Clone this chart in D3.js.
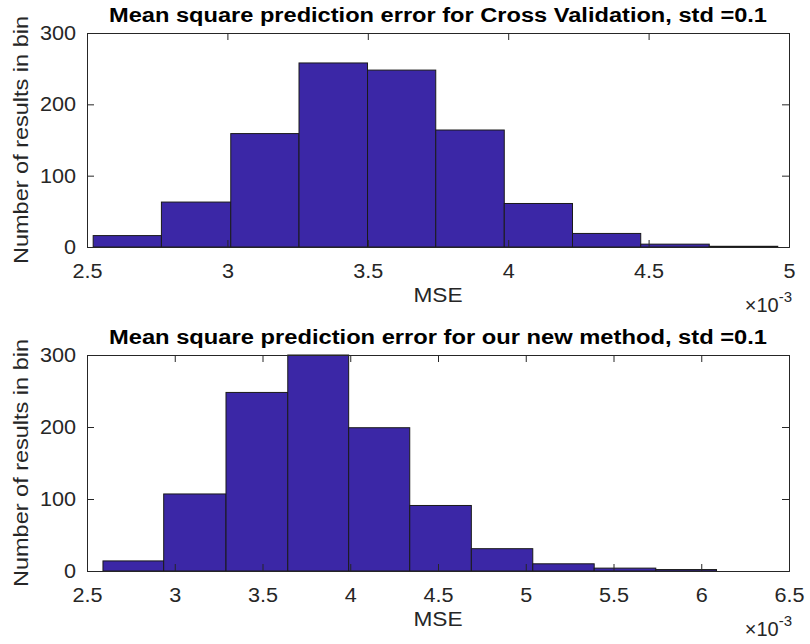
<!DOCTYPE html>
<head>
  <title>MSE histograms</title>
  <meta charset="utf-8">
  <style>
    body { margin: 0; background: #fff; }
    text { font-family: "Liberation Sans", Arial, Helvetica, sans-serif; fill: #262626; }
    .title { font-weight: bold; fill: #000; }
  </style>
</head>
<body>
  <svg width="810" height="644"></svg>
  <script src="https://d3js.org/d3.v7.min.js"></script>
  <script>
    // Top panel: cross validation
    var cvTitle = "Mean square prediction error for Cross Validation, std =0.1";
    var cvEdges = [2.522, 2.765, 3.012, 3.255, 3.499, 3.742, 3.986, 4.229, 4.472, 4.716, 4.960];
    var cvCounts = [16, 63, 159, 258, 248, 164, 61, 19, 4, 1];
    var cvXTicks = [2.5, 3, 3.5, 4, 4.5, 5];

    // Bottom panel: new method
    var nmTitle = "Mean square prediction error for our new method, std =0.1";
    var nmEdges = [2.591, 2.937, 3.292, 3.644, 3.991, 4.339, 4.690, 5.040, 5.390, 5.741, 6.087];
    var nmCounts = [14, 107, 248, 300, 199, 91, 31, 10, 4, 2];
    var nmXTicks = [2.5, 3, 3.5, 4, 4.5, 5, 5.5, 6, 6.5];

    var yTicks = [0, 100, 200, 300];
    var xLabel = "MSE", yLabel = "Number of results in bin";

    var svg = d3.select("svg");
    var barColor = "#3b27a6";

    // MATLAB's text renders a bit wider than Liberation Sans
    function widen(sel, f) {
      sel.each(function() {
        var w = this.getComputedTextLength();
        d3.select(this).attr("textLength", w * f).attr("lengthAdjust", "spacingAndGlyphs");
      });
    }

    function drawPanel(p) {
      var x = d3.scaleLinear().domain(d3.extent(p.xTicks)).range([p.left, p.right]);
      var y = d3.scaleLinear().domain([0, 300]).range([p.bottom, p.top]);
      var g = svg.append("g");

      var bins = p.counts.map(function(c, i) { return {x0: p.edges[i], x1: p.edges[i + 1], n: c}; });

      g.selectAll("rect.bar")
        .data(bins)
        .enter().append("rect")
          .attr("class", "bar")
          .attr("x", function(d) { return x(d.x0); })
          .attr("width", function(d) { return x(d.x1) - x(d.x0); })
          .attr("y", function(d) { return y(d.n); })
          .attr("height", function(d) { return y(0) - y(d.n); })
          .attr("fill", barColor)
          .attr("stroke", "#1a1a1a")
          .attr("stroke-width", 1);

      // axes (MATLAB style: ticks inside, box on)
      var tl = -7;
      g.append("g").attr("transform", "translate(0," + p.bottom + ")")
        .call(d3.axisBottom(x).tickValues(p.xTicks).tickSize(tl).tickPadding(17).tickFormat(d3.format("")));
      g.append("g").attr("transform", "translate(0," + p.top + ")")
        .call(d3.axisTop(x).tickValues(p.xTicks).tickSize(tl).tickFormat(""));
      g.append("g").attr("transform", "translate(" + p.left + ",0)")
        .call(d3.axisLeft(y).tickValues(yTicks).tickSize(tl).tickPadding(11));
      g.append("g").attr("transform", "translate(" + p.right + ",0)")
        .call(d3.axisRight(y).tickValues(yTicks).tickSize(tl).tickFormat(""));

      g.selectAll(".domain").attr("stroke", "#262626");
      g.selectAll(".tick line").attr("stroke", "#262626");
      g.selectAll(".tick text").attr("font-size", 20).attr("fill", "#262626")
        .attr("font-family", "'Liberation Sans', Arial, sans-serif")
        .call(widen, 1.08);

      var cx = (p.left + p.right) / 2;
      g.append("text").attr("class", "title")
        .attr("x", cx).attr("y", p.top - 11)
        .attr("text-anchor", "middle")
        .attr("font-size", 20)
        .attr("textLength", 658).attr("lengthAdjust", "spacingAndGlyphs")
        .text(p.title);

      g.append("text")
        .attr("x", cx).attr("y", p.bottom + 55)
        .attr("text-anchor", "middle")
        .attr("font-size", 21)
        .text(xLabel)
        .call(widen, 1.08);

      g.append("text")
        .attr("transform", "translate(28," + ((p.top + p.bottom) / 2) + ") rotate(-90)")
        .attr("text-anchor", "middle")
        .attr("font-size", 21)
        .attr("textLength", 248).attr("lengthAdjust", "spacingAndGlyphs")
        .text(yLabel);

      var ex = g.append("text")
        .attr("x", p.right + 3).attr("y", p.bottom + 65)
        .attr("text-anchor", "end")
        .attr("font-size", 20);
      ex.append("tspan").text("\u00d710");
      ex.append("tspan").attr("dy", -10).attr("font-size", 15).text("-3");
    }

    drawPanel({title: cvTitle, edges: cvEdges, counts: cvCounts, xTicks: cvXTicks,
               left: 87, right: 789, top: 33, bottom: 247});
    drawPanel({title: nmTitle, edges: nmEdges, counts: nmCounts, xTicks: nmXTicks,
               left: 87, right: 789, top: 355, bottom: 571});
  </script>
</body>
